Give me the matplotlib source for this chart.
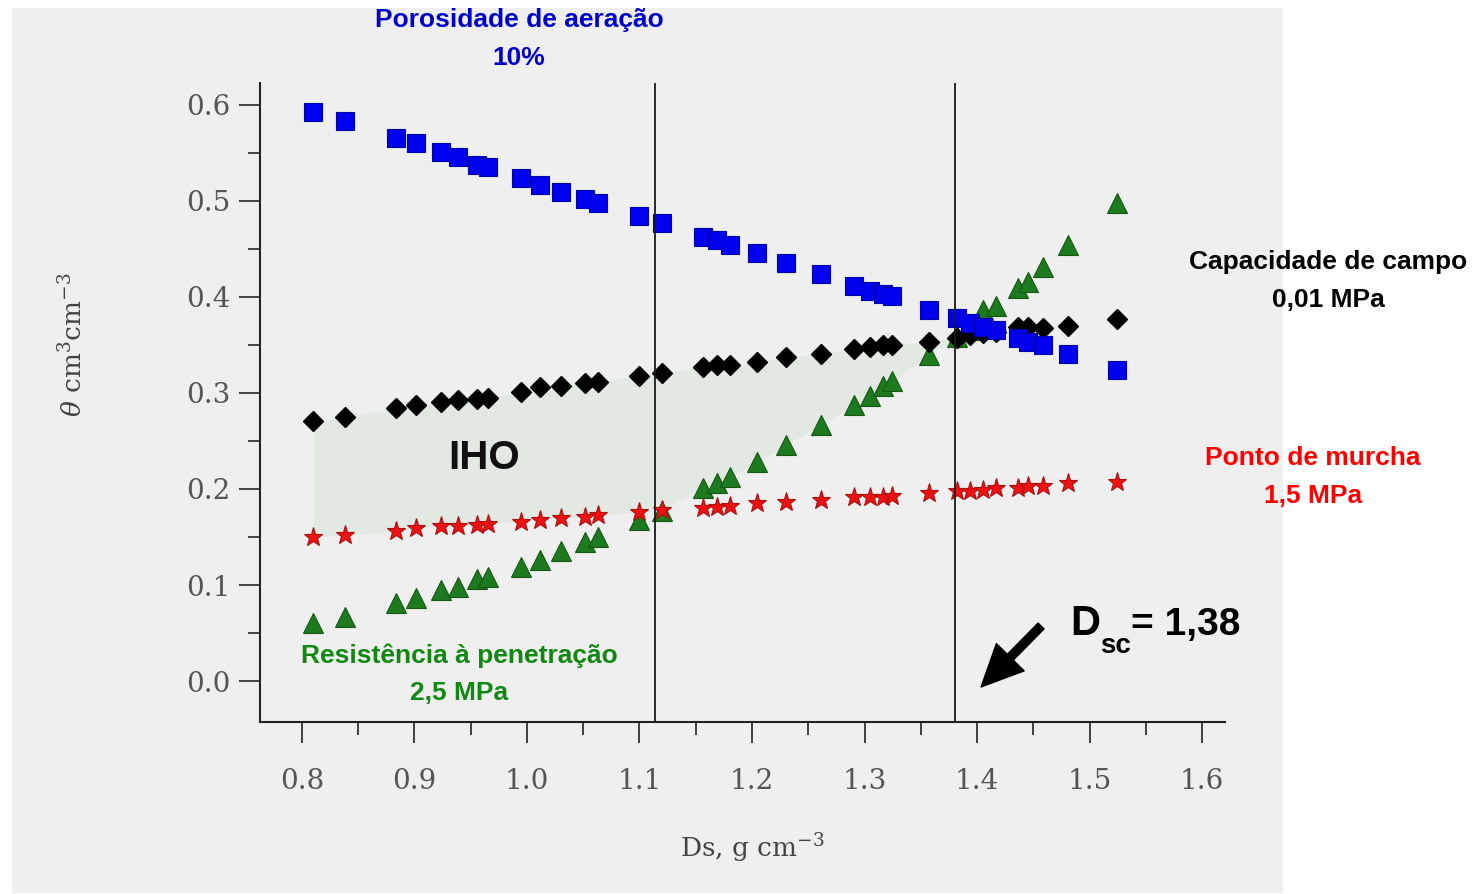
import numpy as np
import matplotlib
matplotlib.use("Agg")
import matplotlib.pyplot as plt
from matplotlib.patches import Rectangle
from matplotlib.ticker import MultipleLocator

plt.rcParams['mathtext.fontset'] = 'dejavuserif'

# densidade do solo (g cm-3)
ds = np.array([0.810, 0.838, 0.884, 0.901, 0.924, 0.939, 0.956, 0.965,
               0.995, 1.012, 1.030, 1.052, 1.063, 1.100, 1.120, 1.156,
               1.169, 1.180, 1.204, 1.230, 1.261, 1.291, 1.305, 1.316,
               1.324, 1.357, 1.382, 1.394, 1.405, 1.417, 1.436, 1.445,
               1.459, 1.481, 1.524])

# porosidade de aeracao 10%
pa = np.array([0.593, 0.583, 0.566, 0.560, 0.551, 0.546, 0.538, 0.535,
               0.524, 0.517, 0.509, 0.502, 0.498, 0.484, 0.477, 0.463,
               0.459, 0.454, 0.446, 0.435, 0.424, 0.411, 0.406, 0.403,
               0.401, 0.386, 0.378, 0.373, 0.369, 0.366, 0.357, 0.353,
               0.350, 0.341, 0.324])

# capacidade de campo 0,01 MPa
cc = np.array([0.271, 0.275, 0.284, 0.288, 0.291, 0.293, 0.294, 0.295,
               0.301, 0.306, 0.307, 0.310, 0.311, 0.318, 0.321, 0.327,
               0.329, 0.329, 0.332, 0.338, 0.341, 0.346, 0.348, 0.350,
               0.350, 0.353, 0.357, 0.360, 0.362, 0.364, 0.369, 0.369,
               0.368, 0.370, 0.377])

# ponto de murcha 1,5 MPa
pm = np.array([0.150, 0.152, 0.156, 0.159, 0.161, 0.161, 0.163, 0.164,
               0.166, 0.168, 0.170, 0.171, 0.173, 0.176, 0.178, 0.180,
               0.181, 0.182, 0.185, 0.186, 0.189, 0.192, 0.192, 0.192,
               0.193, 0.196, 0.198, 0.198, 0.199, 0.201, 0.201, 0.203,
               0.203, 0.206, 0.207])

# resistencia a penetracao 2,5 MPa
rp = np.array([0.060, 0.067, 0.081, 0.086, 0.095, 0.098, 0.106, 0.108,
               0.119, 0.126, 0.135, 0.145, 0.150, 0.168, 0.177, 0.201,
               0.206, 0.212, 0.228, 0.246, 0.267, 0.288, 0.297, 0.307,
               0.312, 0.340, 0.358, 0.366, 0.386, 0.391, 0.409, 0.416,
               0.431, 0.454, 0.498])

ds_lim = 1.114
dsc = 1.38

narrow = ['Liberation Sans Narrow', 'Liberation Sans']
serif = ['DejaVu Serif']

fig = plt.figure(figsize=(14.73, 8.94), dpi=100)
fig.patches.append(Rectangle((12/1473, 1/894), 1271/1473, 885/894,
                             transform=fig.transFigure, facecolor='#efefef',
                             edgecolor='none', zorder=-5))

ax = fig.add_axes([260/1473, 1 - 722/894, 965/1473, 639/894])
ax.set_facecolor('none')

# area do IHO
upper = np.minimum(cc, pa)
lower = np.maximum(pm, rp)
ax.fill_between(ds, lower, upper, where=(ds <= dsc + 0.003) & (upper >= lower),
                interpolate=True, color='#e2e8e2', lw=0, zorder=1)

ax.axvline(ds_lim, color='#1a1a1a', lw=1.3, zorder=5)
ax.axvline(dsc, color='#1a1a1a', lw=1.3, zorder=5)

ax.plot(ds, rp, ls='none', marker='^', ms=14, mfc='#1e7a1e', mec='#145814', mew=0.8, zorder=3)
ax.plot(ds, cc, ls='none', marker='D', ms=10, mfc='black', mec='black', zorder=3.2)
ax.plot(ds, pa, ls='none', marker='s', ms=13.5, mfc='#0000ee', mec='#0000a8', mew=0.8, zorder=3.4)
ax.plot(ds, pm, ls='none', marker='*', ms=14, mfc='#ee1111', mec='#aa1010', mew=0.8, zorder=3.6)

ax.set_xlim(0.7627, 1.6204)
ax.set_ylim(-0.0427, 0.6229)
ax.xaxis.set_major_locator(MultipleLocator(0.1))
ax.xaxis.set_minor_locator(MultipleLocator(0.05))
ax.yaxis.set_major_locator(MultipleLocator(0.1))
ax.yaxis.set_minor_locator(MultipleLocator(0.05))
ax.xaxis.set_major_formatter(plt.FuncFormatter(lambda v, p: '%.1f' % v))
ax.yaxis.set_major_formatter(plt.FuncFormatter(lambda v, p: '%.1f' % (v + 0.0)))

for side in ['top', 'right']:
    ax.spines[side].set_visible(False)
for side in ['left', 'bottom']:
    ax.spines[side].set_linewidth(1.5)
    ax.spines[side].set_color('#222222')

ax.tick_params(which='major', length=15, width=1.2, color='#222222')
ax.tick_params(which='minor', length=9, width=1.2, color='#222222')
ax.tick_params(axis='x', which='major', pad=18)
ax.tick_params(axis='y', which='major', pad=6)
for lab in ax.get_xticklabels() + ax.get_yticklabels():
    lab.set_fontfamily(serif)
    lab.set_fontsize(20)
    lab.set_color('#555555')

fig.text(752/1473, 1 - 848/894, 'Ds, g cm$^{-3}$', family=serif, fontsize=19,
         color='#444444', ha='center', va='center')
fig.text(73/1473, 1 - 345/894, r'$\theta$ cm$^{3}$cm$^{-3}$', family=serif, fontsize=19,
         color='#444444', ha='center', va='center', rotation=90)

fig.text(519/1473, 1 - 39/894, 'Porosidade de aeração\n10%', family=narrow, weight='bold',
         fontsize=19, color='#0000cc', ha='center', va='center', linespacing=1.7)
fig.text(1328/1473, 1 - 281/894, 'Capacidade de campo\n0,01 MPa', family=narrow, weight='bold',
         fontsize=19, color='black', ha='center', va='center', linespacing=1.7)
fig.text(1313/1473, 1 - 477/894, 'Ponto de murcha\n1,5 MPa', family=narrow, weight='bold',
         fontsize=19, color='#ff0000', ha='center', va='center', linespacing=1.7)
fig.text(459/1473, 1 - 674/894, 'Resistência à penetração\n2,5 MPa', family=narrow, weight='bold',
         fontsize=19, color='#118811', ha='center', va='center', linespacing=1.7)
fig.text(484/1473, 1 - 458/894, 'IHO', family=narrow, weight='bold',
         fontsize=29, color='#111111', ha='center', va='center')

fig.text(1100/1473, 1 - 635/894, 'D', family=narrow, weight='bold', fontsize=30,
         color='black', ha='right', va='baseline')
fig.text(1100/1473, 1 - 653/894, 'sc', family=narrow, weight='bold', fontsize=20,
         color='black', ha='left', va='baseline')
fig.text(1240/1473, 1 - 635/894, '= 1,38', family=narrow, weight='bold', fontsize=28,
         color='black', ha='right', va='baseline')

ax.annotate('', xy=(1.4036, -0.0062), xytext=(1.4569, 0.0573),
            arrowprops=dict(facecolor='black', edgecolor='black', width=6,
                            headwidth=28, headlength=30, shrink=0))

fig.savefig('out.png', dpi=100)
